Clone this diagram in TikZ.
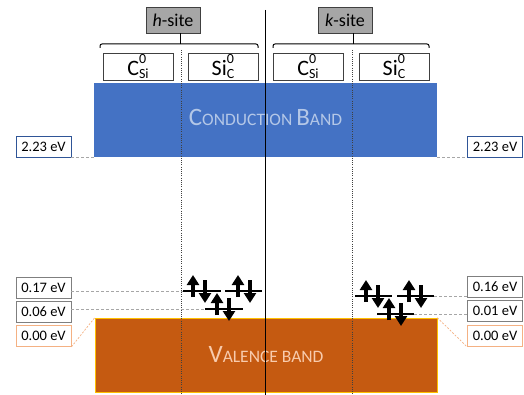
\documentclass[tikz,border=0pt]{standalone}
\usepackage{fontspec}
\setmainfont{Carlito}
\usetikzlibrary{arrows.meta}
\definecolor{cbblue}{HTML}{4472C4}
\definecolor{cbtext}{HTML}{B4C7E7}
\definecolor{vbfill}{HTML}{C55A11}
\definecolor{vbedge}{HTML}{FFC000}
\definecolor{vbtext}{HTML}{F8CBAD}
\definecolor{sitefill}{HTML}{A6A6A6}
\definecolor{darkedge}{HTML}{404040}
\definecolor{boxgray}{HTML}{7F7F7F}
\definecolor{boxblue}{HTML}{2F5597}
\definecolor{boxorange}{HTML}{F4B183}
\definecolor{dashgray}{HTML}{A6A6A6}
\newcommand{\sz}[1]{\fontsize{#1}{#1}\selectfont}
\newcommand{\CSi}{C\rlap{\raisebox{12.5pt}{\sz{14}0}}\raisebox{-2.5pt}{\sz{14}Si}}
\newcommand{\SiC}{Si\rlap{\raisebox{12.5pt}{\sz{14}0}}\raisebox{-2.5pt}{\sz{14}C}}
\begin{document}
\begin{tikzpicture}[x=1pt,y=-1pt,
  site/.style={draw=darkedge,fill=sitefill,line width=0.8pt,minimum width=54pt,minimum height=26pt,inner sep=0pt,font=\sz{18}},
  defect/.style={draw=darkedge,fill=white,line width=0.8pt,minimum width=70pt,minimum height=27pt,inner sep=0pt,font=\sz{22}},
  valbox/.style={draw=boxgray,fill=white,line width=0.8pt,minimum width=55pt,minimum height=21pt,inner sep=0pt,font=\sz{14.5}},
  bluebox/.style={valbox,draw=boxblue},
  orangebox/.style={valbox,draw=boxorange},
  cbandstyle/.style={fill=cbblue,minimum width=343pt,minimum height=74pt,inner sep=0pt,text=cbtext},
  vbandstyle/.style={fill=vbfill,draw=vbedge,line width=0.6pt,minimum width=342pt,minimum height=74pt,inner sep=0pt,text=vbtext},
  bracket/.style={line width=1pt,black,rounded corners=2pt},
  dashg/.style={dashgray,line width=0.7pt,dash pattern=on 3pt off 2pt},
  dotdiv/.style={darkedge,line width=0.5pt,dash pattern=on 1pt off 1.2pt},
  orangediag/.style={boxorange,line width=0.7pt,dash pattern=on 2pt off 1.5pt},
  level/.style={black,line width=1.5pt},
  spin/.style={black,line width=3.8pt,-{Triangle[width=12pt,length=10pt]}}
]
\useasboundingbox (0,0) rectangle (524,395);

% bands
\node[cbandstyle] (cb) at (265.5,120) {\raisebox{5pt}{\sz{25}C\sz{17.5}ONDUCTION \sz{25}B\sz{17.5}AND}};
\node[vbandstyle] (vb) at (266,355) {\raisebox{-1pt}{\sz{25}V\sz{17.5}ALENCE BAND}};

% site headers
\node[site] (hs) at (173,20) {\textit{h}-site};
\node[site] (ks) at (345,20) {\textit{k}-site};

% defect boxes
\node[defect] (hC) at (138,66.5) {\CSi};
\node[defect] (hS) at (223,66.5) {\SiC};
\node[defect] (kC) at (308,66.5) {\CSi};
\node[defect] (kS) at (394,66.5) {\SiC};

% brackets
\coordinate (hb) at (180,44);
\coordinate (kb) at (353,44);
\draw[bracket] (100,48) -- (100,44) -- (258,44) -- (258,48);
\draw[bracket] (273,48) -- (273,44) -- (429,44) -- (429,48);
\draw[line width=1pt] (hs.south -| hb) -- (hb);
\draw[line width=1pt] (ks.south -| kb) -- (kb);

% value boxes
\node[bluebox] (vL223) at (43.5,147) {2.23 eV};
\node[bluebox] (vR223) at (495,146.5) {2.23 eV};
\node[valbox] (vL017) at (43.5,287.5) {0.17 eV};
\node[valbox] (vL006) at (43.5,311.5) {0.06 eV};
\node[orangebox] (vL000) at (43.5,336) {0.00 eV};
\node[valbox] (vR016) at (495,287) {0.16 eV};
\node[valbox] (vR001) at (495,311) {0.01 eV};
\node[orangebox] (vR000) at (495,336) {0.00 eV};

% dotted dividers
\coordinate (hdt) at (181,50); \coordinate (hdb) at (181,395);
\coordinate (kdt) at (352,50); \coordinate (kdb) at (352,395);
\draw[dotdiv] (hdt) -- (hdb);
\draw[dotdiv] (kdt) -- (kdb);

% gap connectors
\draw[dashg] (vL223.east |- cb.south west) -- (cb.south west);
\draw[dashg] (cb.south east) -- (vR223.west |- cb.south east);
\draw[orangediag] (vL000.south east) -- (vb.north west);
\draw[orangediag] (vb.north east) -- (vR000.south west);

% levels h-site
\coordinate (h1a) at (183,291); \coordinate (h1b) at (221,291);
\coordinate (h2a) at (225,291); \coordinate (h2b) at (262,291);
\coordinate (h3a) at (205,309); \coordinate (h3b) at (243,309);
% levels k-site
\coordinate (k1a) at (355,296); \coordinate (k1b) at (392,296);
\coordinate (k2a) at (397,296); \coordinate (k2b) at (434,296);
\coordinate (k3a) at (377,314); \coordinate (k3b) at (414,314);

\draw[dashg] (vL017.east |- h1a) -- (h1a);
\draw[dashg] (vL006.east |- h3a) -- (h3a);
\draw[dashg] (k2b) -- (vR016.west |- k2b);
\draw[dashg] (k3b) -- (vR001.west |- k3b);

\foreach \a/\b in {h1a/h1b,h2a/h2b,h3a/h3b,k1a/k1b,k2a/k2b,k3a/k3b}
  \draw[level] (\a) -- (\b);

% electron pairs
\foreach \x/\L in {193/291,238/291,217/309,366/296,409/296,389/314}{
  \draw[spin] (\x,\L+6) -- (\x,\L-16);
  \draw[spin] (\x+12,\L-11) -- (\x+12,\L+12);
}

% central divider
\coordinate (ctop) at (265,10);
\coordinate (cbot) at (265,395);
\draw[black,line width=1pt] (ctop) -- (cbot);
\end{tikzpicture}
\end{document}
